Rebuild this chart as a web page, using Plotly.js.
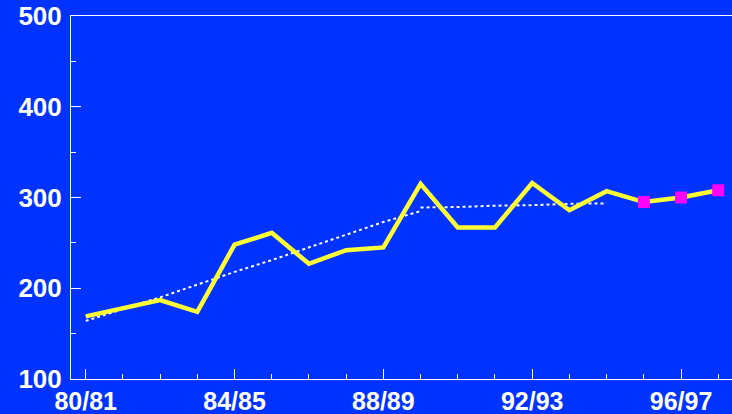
<!DOCTYPE html>
<html>
<head>
<meta charset="utf-8">
<script src="https://cdn.plot.ly/plotly-3.0.1.min.js"></script>
<style>html,body{margin:0;padding:0;background:#0033ff;}#chart{width:732px;height:414px;}</style>
</head>
<body>
<div id="chart"></div>
<script>
// Categories (financial years)
const years = ['80/81','81/82','82/83','83/84','84/85','85/86','86/87','87/88','88/89','89/90',
               '90/91','91/92','92/93','93/94','94/95','95/96','96/97','97/98'];
// Main series (yellow line)
const values = [169, 178, 187, 174, 248, 261, 227, 242, 245, 315,
                267, 267, 316, 286, 307, 295, 300, 308];
// Projected points (magenta squares)
const projYears = ['95/96','96/97','97/98'];
const projValues = [295, 300, 308];
// Trend (white dotted) – two segments
const trend1Years = ['80/81','81/82','82/83','83/84','84/85','85/86','86/87','87/88','88/89','89/90'];
const trend1Values = [164, 177, 190, 204, 218, 231, 245, 259, 273, 285];
const trend2Years = ['89/90','90/91','91/92','92/93','93/94','94/95'];
const trend2Values = [289, 289.5, 291, 291.5, 293, 293.5];
// Tick labels
const xTickLabels = ['80/81','84/85','88/89','92/93','96/97'];

const traces = [
  {x: trend1Years, y: trend1Values, type: 'scatter', mode: 'lines',
   line: {color: '#ffffff', width: 2, dash: '3px,3px'}, hoverinfo: 'skip'},
  {x: trend2Years, y: trend2Values, type: 'scatter', mode: 'lines',
   line: {color: '#ffffff', width: 2, dash: '3px,3px'}, hoverinfo: 'skip'},
  {x: years, y: values, type: 'scatter', mode: 'lines',
   line: {color: '#ffff33', width: 4.5}},
  {x: projYears, y: projValues, type: 'scatter', mode: 'markers',
   marker: {symbol: 'square', size: 12, color: '#ff00ff'}}
];

const layout = {
  width: 732, height: 414,
  paper_bgcolor: '#0033ff', plot_bgcolor: '#0033ff',
  margin: {l: 71, r: 0, t: 16, b: 35, pad: 0},
  showlegend: false,
  font: {family: 'Liberation Sans, Arial, sans-serif', color: '#ffffff', size: 24},
  xaxis: {
    type: 'category', categoryorder: 'array', categoryarray: years,
    range: [-0.395, 17.37],
    tickmode: 'array', tickvals: xTickLabels, ticktext: xTickLabels.map(t => '<b>' + t + '</b>'),
    ticks: 'inside', ticklen: 10, tickwidth: 1, tickcolor: '#ffffff',
    minor: {tickmode: 'array', tickvals: years, ticks: 'inside', ticklen: 5, tickwidth: 1, tickcolor: '#ffffff'},
    showline: true, linecolor: '#ffffff', linewidth: 1, mirror: true,
    showgrid: false, zeroline: false,
    tickfont: {size: 25, color: '#ffffff', family: 'Liberation Sans, Arial, sans-serif'}
  },
  yaxis: {
    range: [100, 500], tickmode: 'linear', tick0: 100, dtick: 100,
    ticks: 'inside', ticklen: 10, tickwidth: 1, tickcolor: '#ffffff',
    minor: {dtick: 50, ticks: 'inside', ticklen: 5, tickwidth: 1, tickcolor: '#ffffff'},
    showline: true, linecolor: '#ffffff', linewidth: 1, mirror: false,
    showgrid: false, zeroline: false,
    ticklabelstandoff: 3,
    tickprefix: '<b>', ticksuffix: '</b>',
    tickfont: {size: 26, color: '#ffffff', family: 'Liberation Sans, Arial, sans-serif'}
  }
};

Plotly.newPlot('chart', traces, layout, {displayModeBar: false, staticPlot: true});
</script>
</body>
</html>
